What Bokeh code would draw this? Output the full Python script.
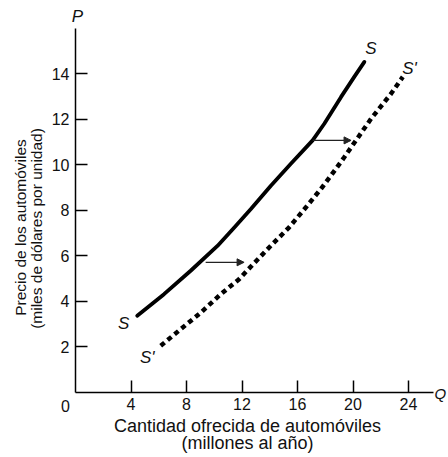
from bokeh.plotting import figure
from bokeh.models import Label, Arrow, NormalHead, Range1d, FixedTicker
from bokeh.embed import file_html
from bokeh.resources import INLINE

# Supply curve S (quantity in millions/year, price in thousands of dollars)
q_s = [4.45, 6.38, 8.30, 10.23, 11.43, 12.64, 14.08, 15.52, 17.09, 17.93, 19.13, 20.09, 20.82]
p_s = [3.35, 4.30, 5.33, 6.42, 7.22, 8.04, 9.07, 10.03, 11.06, 11.79, 12.96, 13.85, 14.51]
# Shifted supply curve S'
q_s2 = [6.14, 7.58, 9.03, 10.47, 11.79, 12.87, 14.08, 15.40, 16.61, 17.69, 18.77, 19.37, 21.30, 22.74, 23.59]
p_s2 = [2.03, 2.76, 3.49, 4.30, 4.96, 5.66, 6.43, 7.24, 8.12, 8.93, 9.81, 10.32, 12.01, 13.11, 13.85]
# Shift arrows
arrow_p = [5.70, 11.06]
arrow_q_from = [9.38, 17.09]
arrow_q_to = [12.15, 19.86]
# Ticks
x_ticks = [4, 8, 12, 16, 20, 24]
y_ticks = [2, 4, 6, 8, 10, 12, 14]
x_axis_end = 25.8
y_axis_end = 16.0

FONT = "Liberation Sans"
W, H = 448, 457
X0, SX = 75.0, 13.875   # page x of q=0, px per unit
Y0, SY = 391.5, 22.75   # page y of p=0, px per unit

p = figure(width=W, height=H, output_backend="svg", toolbar_location=None,
           x_range=Range1d(-X0 / SX, (W - X0) / SX),
           y_range=Range1d((Y0 - H) / SY, Y0 / SY))
p.min_border_left = p.min_border_right = p.min_border_top = p.min_border_bottom = 0
p.outline_line_color = None
p.grid.visible = False
p.background_fill_color = "white"
p.border_fill_color = "white"

p.xaxis[0].fixed_location = 0
p.yaxis[0].fixed_location = 0
p.xaxis[0].bounds = (0, x_axis_end)
p.yaxis[0].bounds = (0, y_axis_end)

for ax in (p.xaxis[0], p.yaxis[0]):
    ax.axis_line_color = "black"
    ax.axis_line_width = 1.5
    ax.major_tick_in = 12
    ax.major_tick_out = 0
    ax.major_tick_line_color = "black"
    ax.major_tick_line_width = 1.5
    ax.minor_tick_line_color = None
    ax.major_label_text_font = FONT
    ax.major_label_text_font_size = "16px"
    ax.major_label_text_color = "#111111"
    ax.major_label_standoff = 6

p.xaxis[0].ticker = FixedTicker(ticks=x_ticks)
p.yaxis[0].ticker = FixedTicker(ticks=y_ticks)

p.line(q_s, p_s, line_color="black", line_width=3.8, line_join="round", line_cap="round")
p.line(q_s2, p_s2, line_color="black", line_width=4.5, line_dash="5 4")

for y, x0, x1 in zip(arrow_p, arrow_q_from, arrow_q_to):
    p.add_layout(Arrow(x_start=x0, y_start=y, x_end=x1, y_end=y,
                       line_color="#222222", line_width=1.2,
                       end=NormalHead(size=7, fill_color="#222222", line_color="#222222")))

def lab(x, y, text, xo=0, yo=0, italic=True, size="17px", align="center",
        baseline="middle", angle=0, units="data"):
    p.add_layout(Label(x=x, y=y, x_units=units, y_units=units, text=text,
                       x_offset=xo, y_offset=yo,
                       text_font=FONT, text_font_size=size,
                       text_font_style="italic" if italic else "normal",
                       text_align=align, text_baseline=baseline, angle=angle,
                       text_color="#111111"))

def slab(px, py, text, **kw):
    # page pixel position (from top-left) -> screen units (from bottom-left)
    lab(px, H - py, text, units="screen", **kw)

lab(3.47, 3.0, "S")
lab(21.3, 15.1, "S")
lab(5.17, 1.51, "S'")
lab(24.07, 14.2, "S'")
lab(0, y_axis_end, "P", xo=2, yo=12)
lab(x_axis_end, 0, "Q", xo=1, yo=-1, align="left", size="15px")
lab(0, 0, "0", xo=-10, yo=-14, italic=False, size="16px")

# Axis titles
slab(247, 425, "Cantidad ofrecida de automóviles", italic=False, size="18px")
slab(247, 442, "(millones al año)", italic=False, size="18px")
slab(20, 227, "Precio de los automóviles", italic=False, size="15.5px", angle=1.5708)
slab(36, 228, "(miles de dólares por unidad)", italic=False, size="15.5px", angle=1.5708)

open("out.html", "w").write(file_html(p, INLINE))
